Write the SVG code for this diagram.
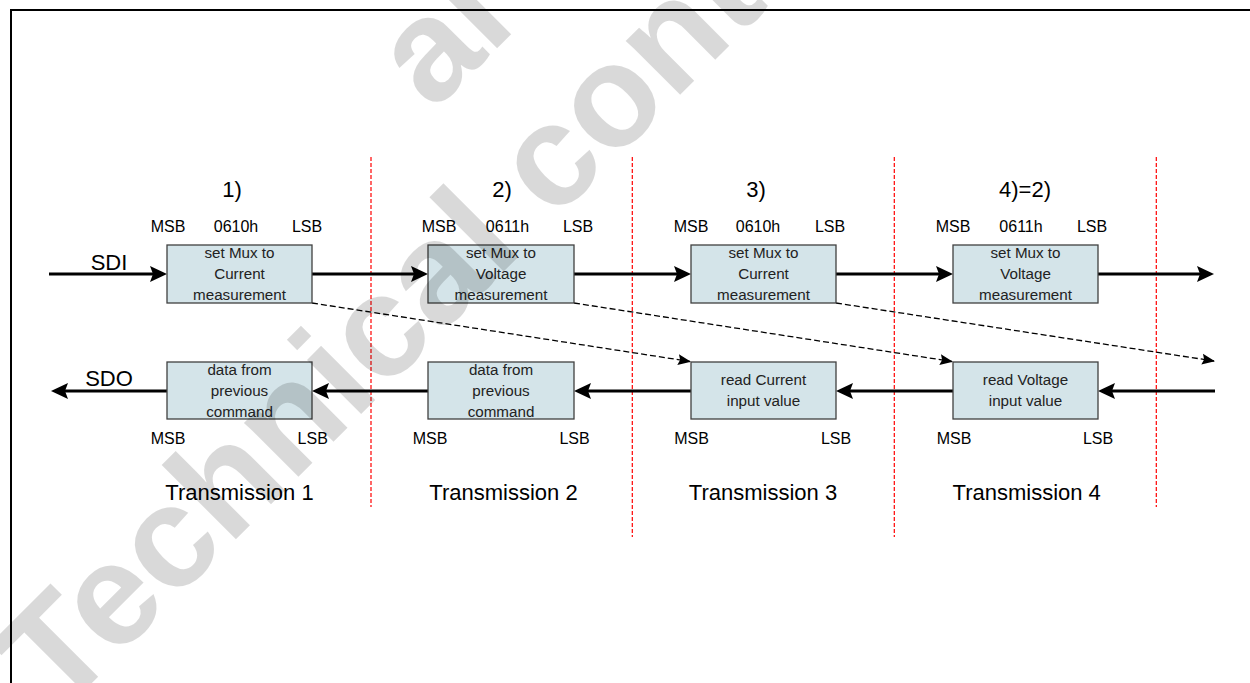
<svg xmlns="http://www.w3.org/2000/svg" width="1250" height="683" viewBox="0 0 1250 683">
  <style>
    .lbl{font-family:"Liberation Sans",Arial,sans-serif;font-size:16px;fill:#000;text-anchor:middle}
    .big{font-family:"Liberation Sans",Arial,sans-serif;font-size:22px;fill:#000;text-anchor:middle}
    .bx{fill:#d4e4e9;stroke:#404040;stroke-width:1.3}
    .bt{font-family:"Liberation Sans",Arial,sans-serif;font-size:15.2px;fill:#222;text-anchor:middle}
    .sep{stroke:#ff0000;stroke-width:1.2;stroke-dasharray:4 2;fill:none}
    .bus{stroke:#000;stroke-width:3;fill:none}
    .dsh{stroke:#000;stroke-width:1.3;stroke-dasharray:6 3;fill:none}
    .wm{font-family:"Liberation Sans",Arial,sans-serif;font-weight:bold;font-size:145px;fill:#000;fill-opacity:0.15}
  </style>
  <defs>
    <marker id="ah" viewBox="0 -10 20 20" refX="9" refY="0" markerWidth="20" markerHeight="20" markerUnits="userSpaceOnUse" orient="auto">
      <path d="M0,-8 L17,0 L0,8 L3,0 Z" fill="#000"/>
    </marker>
    <marker id="ahs" viewBox="0 -7 14 14" refX="12" refY="0" markerWidth="14" markerHeight="14" markerUnits="userSpaceOnUse" orient="auto">
      <path d="M0,-5.5 L13,0 L0,5.5 L2,0 Z" fill="#000"/>
    </marker>
  </defs>
  <rect width="1250" height="683" fill="#fff"/>
  <path d="M11,700 V10 H1260" fill="none" stroke="#000" stroke-width="2"/>

  <g id="separators">
    <line class="sep" x1="371" y1="157" x2="371" y2="507"/>
    <line class="sep" x1="632.3" y1="157" x2="632.3" y2="537"/>
    <line class="sep" x1="894.3" y1="157" x2="894.3" y2="537"/>
    <line class="sep" x1="1156.3" y1="157" x2="1156.3" y2="507"/>
  </g>

  <g id="connectors">
    <line class="bus" x1="49" y1="274" x2="159" y2="274" marker-end="url(#ah)"/>
    <line class="bus" x1="312" y1="274" x2="420" y2="274" marker-end="url(#ah)"/>
    <line class="bus" x1="574" y1="274" x2="683" y2="274" marker-end="url(#ah)"/>
    <line class="bus" x1="836" y1="274" x2="945" y2="274" marker-end="url(#ah)"/>
    <line class="bus" x1="1098" y1="274" x2="1206" y2="274" marker-end="url(#ah)"/>
    <line class="bus" x1="167" y1="391" x2="59" y2="391" marker-end="url(#ah)"/>
    <line class="bus" x1="428" y1="391" x2="320" y2="391" marker-end="url(#ah)"/>
    <line class="bus" x1="691" y1="391" x2="582" y2="391" marker-end="url(#ah)"/>
    <line class="bus" x1="953" y1="391" x2="844" y2="391" marker-end="url(#ah)"/>
    <line class="bus" x1="1215" y1="391" x2="1106" y2="391" marker-end="url(#ah)"/>
    <line class="dsh" x1="312" y1="303" x2="690" y2="361.5" marker-end="url(#ahs)"/>
    <line class="dsh" x1="574" y1="303" x2="952" y2="361.5" marker-end="url(#ahs)"/>
    <line class="dsh" x1="836" y1="303" x2="1214" y2="361" marker-end="url(#ahs)"/>
  </g>

  <g id="labels">
    <text class="big" x="109" y="270">SDI</text>
    <text class="big" x="109" y="386">SDO</text>
    <text class="big" x="232" y="197">1)</text>
    <text class="big" x="502" y="197">2)</text>
    <text class="big" x="756" y="197">3)</text>
    <text class="big" x="1025" y="197">4)=2)</text>
    <text class="big" x="239.5" y="500">Transmission 1</text>
    <text class="big" x="503.5" y="500">Transmission 2</text>
    <text class="big" x="763" y="500">Transmission 3</text>
    <text class="big" x="1026.7" y="500">Transmission 4</text>
  </g>

  <g id="tx1">
    <text class="lbl" x="168" y="232">MSB</text>
    <text class="lbl" x="236" y="232">0610h</text>
    <text class="lbl" x="307" y="232">LSB</text>
    <rect class="bx" x="167" y="245" width="145" height="58"/>
    <text class="bt" x="239.5" y="258">set Mux to</text>
    <text class="bt" x="239.5" y="279">Current</text>
    <text class="bt" x="239.5" y="300">measurement</text>
  </g>
  <g id="tx2">
    <text class="lbl" x="439" y="232">MSB</text>
    <text class="lbl" x="507.5" y="232">0611h</text>
    <text class="lbl" x="578" y="232">LSB</text>
    <rect class="bx" x="428" y="245" width="146" height="58"/>
    <text class="bt" x="501" y="258">set Mux to</text>
    <text class="bt" x="501" y="279">Voltage</text>
    <text class="bt" x="501" y="300">measurement</text>
  </g>
  <g id="tx3">
    <text class="lbl" x="691" y="232">MSB</text>
    <text class="lbl" x="758" y="232">0610h</text>
    <text class="lbl" x="830" y="232">LSB</text>
    <rect class="bx" x="691" y="245" width="145" height="58"/>
    <text class="bt" x="763.5" y="258">set Mux to</text>
    <text class="bt" x="763.5" y="279">Current</text>
    <text class="bt" x="763.5" y="300">measurement</text>
  </g>
  <g id="tx4">
    <text class="lbl" x="953" y="232">MSB</text>
    <text class="lbl" x="1021" y="232">0611h</text>
    <text class="lbl" x="1092" y="232">LSB</text>
    <rect class="bx" x="953" y="245" width="145" height="58"/>
    <text class="bt" x="1025.5" y="258">set Mux to</text>
    <text class="bt" x="1025.5" y="279">Voltage</text>
    <text class="bt" x="1025.5" y="300">measurement</text>
  </g>

  <g id="rx1">
    <rect class="bx" x="167" y="362" width="145" height="57"/>
    <text class="bt" x="239.5" y="375">data from</text>
    <text class="bt" x="239.5" y="396">previous</text>
    <text class="bt" x="239.5" y="417">command</text>
    <text class="lbl" x="168" y="444">MSB</text>
    <text class="lbl" x="312.7" y="444">LSB</text>
  </g>
  <g id="rx2">
    <rect class="bx" x="428" y="362" width="146" height="57"/>
    <text class="bt" x="501" y="375">data from</text>
    <text class="bt" x="501" y="396">previous</text>
    <text class="bt" x="501" y="417">command</text>
    <text class="lbl" x="430" y="444">MSB</text>
    <text class="lbl" x="574.5" y="444">LSB</text>
  </g>
  <g id="rx3">
    <rect class="bx" x="691" y="362" width="145" height="57"/>
    <text class="bt" x="763.5" y="385">read Current</text>
    <text class="bt" x="763.5" y="406">input value</text>
    <text class="lbl" x="691.5" y="444">MSB</text>
    <text class="lbl" x="836" y="444">LSB</text>
  </g>
  <g id="rx4">
    <rect class="bx" x="953" y="362" width="145" height="57"/>
    <text class="bt" x="1025.5" y="385">read Voltage</text>
    <text class="bt" x="1025.5" y="406">input value</text>
    <text class="lbl" x="954" y="444">MSB</text>
    <text class="lbl" x="1098" y="444">LSB</text>
  </g>

  <g id="watermark">
    <text class="wm" transform="translate(59.6 715.6) rotate(-45)">Technical content</text>
    <text class="wm" transform="translate(433 112.4) rotate(-45)">al</text>
  </g>
</svg>
